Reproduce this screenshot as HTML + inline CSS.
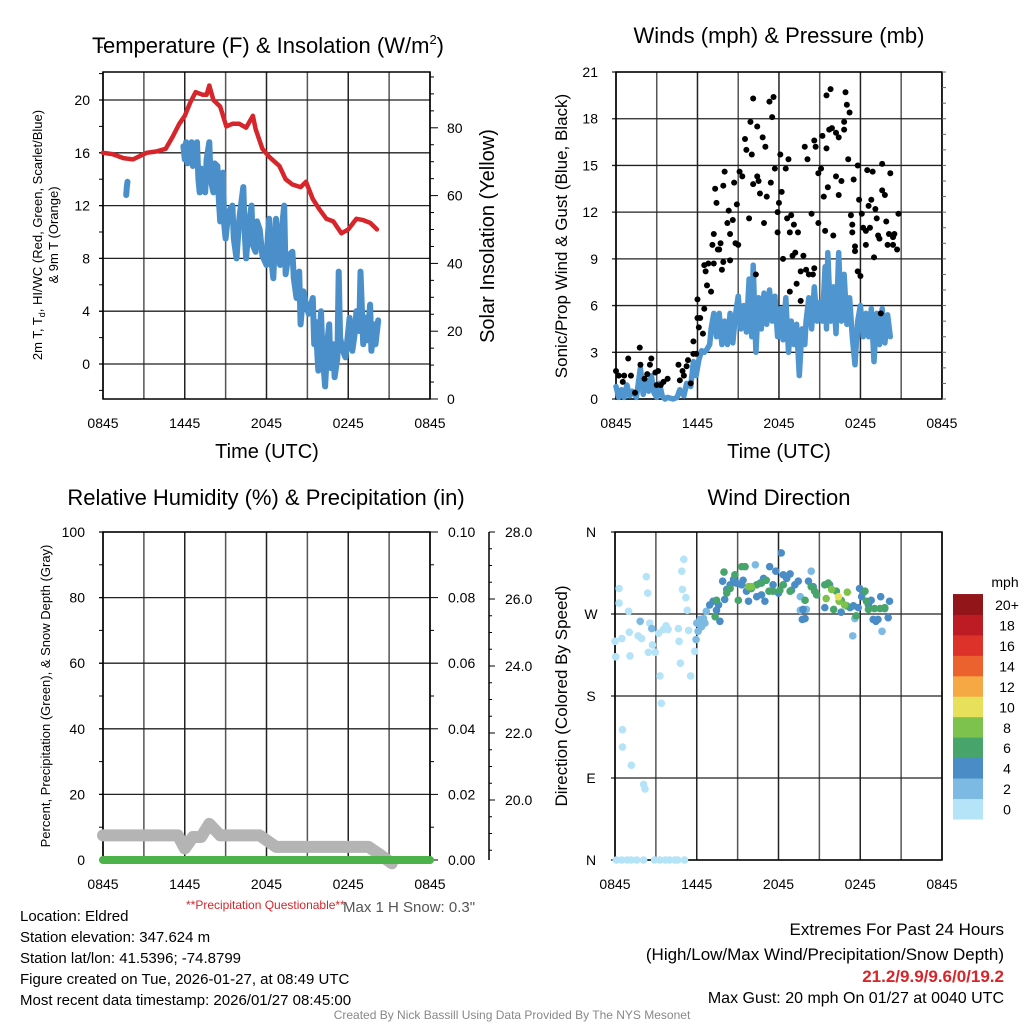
<!DOCTYPE html>
<html><head><meta charset="utf-8"><style>
html,body{margin:0;padding:0;background:#fff;}
svg{display:block;font-family:"Liberation Sans",sans-serif;}
</style></head><body>
<svg id="c" width="1024" height="1024" viewBox="0 0 1024 1024">
<g id="g-tl"></g>
<g id="g-tr"></g>
<g id="g-bl"></g>
<g id="g-br"></g>
<g font-size="22" text-anchor="middle" fill="#000">
<text x="268" y="53">Temperature (F) &amp; Insolation (W/m<tspan font-size="13" dy="-9">2</tspan><tspan dy="9">)</tspan></text>
<text x="779" y="43">Winds (mph) &amp; Pressure (mb)</text>
<text x="266" y="505">Relative Humidity (%) &amp; Precipitation (in)</text>
<text x="779" y="505">Wind Direction</text>
</g>
<g font-size="20" text-anchor="middle">
<text x="267" y="458">Time (UTC)</text>
<text x="779" y="458">Time (UTC)</text>
</g>
<text transform="translate(42,235) rotate(-90)" font-size="13" text-anchor="middle">2m T, T<tspan font-size="9" dy="3">d</tspan><tspan dy="-3">, HI/WC (Red, Green, Scarlet/Blue)</tspan></text>
<text transform="translate(58,235) rotate(-90)" font-size="13" text-anchor="middle">&amp; 9m T (Orange)</text>
<text transform="translate(494,236) rotate(-90)" font-size="20" text-anchor="middle">Solar Insolation (Yellow)</text>
<text transform="translate(567,236) rotate(-90)" font-size="17" text-anchor="middle">Sonic/Prop Wind &amp; Gust (Blue, Black)</text>
<text transform="translate(50,696) rotate(-90)" font-size="13" text-anchor="middle">Percent, Precipitation (Green), &amp; Snow Depth (Gray)</text>
<text transform="translate(567,696) rotate(-90)" font-size="17" text-anchor="middle">Direction (Colored By Speed)</text>
<text x="186" y="909" font-size="12" fill="#d7262b">**Precipitation Questionable**</text>
<text x="343" y="912" font-size="15" fill="#555">Max 1 H Snow: 0.3"</text>
<g font-size="15" fill="#000">
<text x="20" y="921">Location: Eldred</text>
<text x="20" y="942">Station elevation: 347.624 m</text>
<text x="20" y="963">Station lat/lon: 41.5396; -74.8799</text>
<text x="20" y="984">Figure created on Tue, 2026-01-27, at 08:49 UTC</text>
<text x="20" y="1005">Most recent data timestamp: 2026/01/27 08:45:00</text>
</g>
<g font-size="17" text-anchor="end">
<text x="1004" y="935">Extremes For Past 24 Hours</text>
<text x="1004" y="960">(High/Low/Max Wind/Precipitation/Snow Depth)</text>
<text x="1004" y="982" font-weight="bold" fill="#d7262b">21.2/9.9/9.6/0/19.2</text>
<text x="1004" y="1003" font-size="16">Max Gust: 20 mph On 01/27 at 0040 UTC</text>
</g>
<text x="512" y="1019" font-size="12" fill="#888" text-anchor="middle">Created By Nick Bassill Using Data Provided By The NYS Mesonet</text>
<text x="1005" y="587" font-size="14" text-anchor="middle">mph</text>
</svg>
<script>
// ---------- data ----------
const timeTickLabels = ["0845","1445","2045","0245","0845"];
const tempTicks = [0,4,8,12,16,20];
const insolTicks = [0,20,40,60,80];
const windTicks = [0,3,6,9,12,15,18,21];
const rhTicks = [0,20,40,60,80,100];
const precipTicks = ["0.00","0.02","0.04","0.06","0.08","0.10"];
const snowTicks = [20,22,24,26,28];
const dirTickLabels = ["N","E","S","W","N"];

const tempHours = [0,0.7,1.5,2.2,3.2,3.9,4.6,5.1,5.6,6.0,6.4,6.8,7.3,7.6,7.8,8.1,8.6,9.05,9.5,10.0,10.5,11.0,11.2,11.7,12.2,12.95,13.4,13.9,14.5,14.9,15.4,15.9,16.4,16.9,17.5,18.0,18.6,19.1,19.6,20.1];
const tempVals  = [16,15.9,15.6,15.5,16,16.1,16.3,17.2,18.2,18.8,19.8,20.6,20.4,20.4,21.1,20,19.5,18,18.2,18.2,17.9,18.8,17.8,16.3,15.7,15,14,13.6,13.4,13.8,12.5,11.7,11.0,10.8,9.9,10.2,11,10.9,10.7,10.2];
const dewHours1 = [1.7,1.75,1.8];
const dewVals1  = [12.8,13.4,13.8];
const dewHours2 = [5.9,6.0,6.1,6.2,6.3,6.4,6.5,6.6,6.7,6.8,6.9,7.0,7.1,7.2,7.3,7.4,7.5,7.6,7.8,7.9,8.1,8.2,8.4,8.5,8.6,8.7,8.8,8.9,9.0,9.2,9.5,9.6,9.8,10.0,10.3,10.4,10.5,10.7,10.9,11.0,11.2,11.3,11.5,11.7,12.0,12.1,12.2,12.3,12.5,12.6,12.7,12.8,13.0,13.1,13.3,13.4,13.6,13.9,14.0,14.2,14.4,14.5,14.7,14.9,15.1,15.4,15.5,15.6,15.8,16.0,16.1,16.3,16.5,16.6,16.7,16.9,17.0,17.2,17.3,17.4,17.6,17.8,18.0,18.1,18.3,18.5,18.6,18.8,18.9,19.1,19.3,19.4,19.6,19.7,19.9,20.0,20.2];
const dewVals2  = [16.5,15.5,16.8,15.2,15.3,16.6,16.8,15.0,15.2,16.5,16.8,14.0,13,14.8,14.5,13.2,13,15.5,16.8,14,13,15.2,15,12.5,10.8,13.5,14.5,10.5,9.5,11.5,12,9.5,8,11,13.4,10,8,10.5,12,9,8.5,10.8,10.2,8.2,7.5,9.8,11,8.5,6.5,9,11,8.8,7.5,10,12,6.8,8.2,8.5,6.5,5,7,3,5.5,4.5,3.8,5,1.5,3.2,-0.5,4,1,-1.7,2,3,-0.3,1.5,-1,0.5,7,2,1,0.5,2.5,3.5,1,2.5,4,2.5,7,1.5,3.5,1.8,4.5,1,3,1.5,3.3];

const windHours = [0,0.2,0.4,0.6,0.8,1.0,1.2,1.5,1.8,2.0,2.2,2.4,2.6,2.8,3.0,3.2,3.4,3.6,3.8,4.2,4.5,4.7,5.0,5.2,5.5,5.7,5.9,6.1,6.3,6.5,6.7,6.9,7.0,7.2,7.4,7.6,7.8,8.0,8.2,8.4,8.6,8.8,9.0,9.2,9.4,9.6,9.8,10.0,10.1,10.3,10.5,10.7,10.9,11.1,11.3,11.5,11.7,11.9,12.1,12.3,12.5,12.7,12.9,13.1,13.3,13.5,13.7,13.9,14.0,14.2,14.4,14.6,14.8,15.0,15.2,15.4,15.5,15.6,15.8,16.0,16.2,16.4,16.6,16.8,17.0,17.2,17.4,17.6,17.8,18.0,18.2,18.4,18.6,18.8,19.0,19.2,19.4,19.6,19.8,20.0,20.2];
const windVals  = [0.8,0.1,0.6,0.1,0.9,0.2,0.5,0.1,2.0,0.3,1.2,0.5,1.5,0.4,0.1,1.0,0.2,0.0,0.1,0.0,0.1,0.6,0.2,1.0,0.8,2.4,1.5,2.5,3.1,3.0,3.2,3.5,4.5,5.5,4.0,5.5,3.5,5.0,3.5,5.5,3.6,5.4,6.6,4.5,6.0,4.3,7.7,4.0,8.6,3.0,6.5,4.5,6.8,4.8,7.0,5.0,6.6,4.0,5.8,3.8,6.5,3.0,5.0,3.5,4.8,1.5,4.5,3.5,5.0,6.5,4.5,7.2,5.0,6.2,5.0,8.5,4.5,9.4,5.0,7.2,4.2,9.4,5.0,8.0,4.8,6.5,4.0,2.2,5.0,6.0,4.0,5.5,4.0,5.8,2.4,5.5,3.5,5.8,3.6,5.4,4.0];

const gustHours = [0,0.2,0.6,0.5,0.9,1.1,1.4,1.75,1.8,2.1,2.3,2.5,2.6,2.9,3.0,3.1,3.3,3.5,3.8,4.6,4.7,4.9,5.0,5.2,5.3,5.5,5.7,5.7,5.9,6.0,6.0,6.1,6.2,6.4,6.5,6.5,6.6,6.7,6.8,7.0,7.1,7.2,7.2,7.3,7.4,7.5,7.6,7.7,7.8,7.9,7.9,8.0,8.2,8.3,8.4,8.4,8.6,8.7,8.8,8.9,9.0,9.1,9.3,9.5,9.6,9.8,9.9,10.0,10.1,10.1,10.3,10.4,10.4,10.5,10.6,10.8,10.9,11.0,11.1,11.3,11.4,11.5,11.6,11.7,11.9,11.9,12.0,12.1,12.2,12.3,12.5,12.6,12.7,12.8,12.8,12.9,13.0,13.1,13.2,13.3,13.4,13.6,13.6,13.8,13.9,14.0,14.1,14.2,14.4,14.5,14.6,14.6,14.7,14.9,14.9,15.1,15.2,15.3,15.4,15.5,15.6,15.5,15.7,15.8,15.9,16.0,16.2,16.2,16.4,16.4,16.6,16.8,16.8,16.9,17.0,17.2,17.1,17.3,17.4,17.4,17.5,17.6,17.6,17.8,17.8,17.9,18.0,18.1,18.2,18.4,18.4,18.5,18.6,18.7,18.8,18.9,19.0,19.1,19.2,19.3,19.4,19.5,19.6,19.6,19.8,19.9,20.0,20.1,20.2,20.4,20.4,20.5,20.7,20.8];
const gustVals  = [1.8,1.5,1.5,1.1,2.6,1.5,0.4,3.3,2.2,1.3,1.6,2.2,2.6,1.7,0.9,1.8,0.9,1.1,1.3,2.2,1.2,1.8,1.5,2.1,2.5,1.0,3.7,2.9,2.9,5.2,6.4,4.6,5.2,4.2,5.8,8.6,8.2,7.3,8.7,6.9,9.9,8.7,10.6,13.5,12.6,9.6,9.6,10.0,8.3,8.8,13.7,14.6,11.3,12.1,10.6,8.9,11.5,13.9,10.0,12.5,9.9,14.6,14.3,16.7,16.0,11.6,17.8,15.7,13.8,19.3,8.0,14.3,17.5,14.0,13.2,16.8,11.3,16.2,13.0,19.1,13.9,18.1,19.4,14.8,12.0,10.7,12.6,15.7,13.3,9.0,14.8,11.6,15.4,6.9,10.7,11.8,9.2,11.2,9.4,7.4,10.7,6.3,8.2,9.2,16.2,8.3,15.4,8.0,11.9,8.0,16.6,8.4,16.2,14.5,11.3,14.8,16.9,13.0,10.8,16.1,13.6,19.5,17.3,19.9,17.4,10.5,14.3,17.1,13.1,16.8,14.0,17.8,17.3,19.7,18.9,18.4,15.4,11.8,10.7,11.2,14.1,9.8,9.5,8.2,15.0,12.8,7.9,11.9,11.0,10.8,9.9,14.7,12.4,11.0,12.8,14.6,9.1,12.2,11.6,10.5,10.3,5.5,15.1,13.4,13.1,11.4,9.9,10.6,14.5,10.4,9.9,10.6,9.6,11.9];

const snowHours = [0,4.5,5.5,6.0,6.6,7.2,7.8,8.6,9.5,11.5,12.7,13.5,16,19.5,20.2,21.2];
const snowPct   = [7.5,7.5,7.5,3.5,7,7,11,7.5,7.5,7.5,4,4,4,4,2,-1];
const precipHours = [0,24];
const precipVals  = [0,0];

const dirHours = [0.0,0.05,0.3,0.3,0.5,1.0,1.1,1.05,0.55,0.55,1.2,1.7,1.95,2.1,2.2,2.3,2.4,2.45,2.55,2.75,2.95,3.2,3.3,3.4,3.55,3.75,3.9,4.65,4.7,4.8,4.9,4.95,5.05,5.2,5.3,5.4,5.55,5.85,
 0.1,0.5,0.9,1.2,1.6,2.1,2.9,3.3,3.7,4.0,4.4,4.6,5.1,
 1.85,2.7,6.0,6.25,6.5,6.7,6.1,6.35,6.6,5.95,17.6,17.45,19.6,14.05,13.6,14.4,10.3,13.6,
 6.95,7.2,7.45,7.6,7.7,7.9,8.05,8.2,8.45,8.7,8.9,9.3,9.4,9.65,9.8,10.0,10.4,10.65,10.75,10.9,11.0,11.35,11.6,11.8,12.0,12.2,12.35,12.6,12.85,12.95,13.2,13.45,13.75,13.95,13.8,14.2,14.55,15.4,15.75,16.6,17.25,17.5,17.85,17.95,18.1,18.25,18.6,18.8,18.95,19.15,19.3,19.5,19.8,20.05,20.15,
 8.0,8.2,8.45,8.8,9.05,9.3,9.55,10.0,10.4,10.75,11.1,11.3,11.6,12.1,12.35,12.85,13.95,14.4,14.65,14.8,15.4,15.65,16.05,16.25,16.6,17.0,17.7,18.35,18.45,18.6,19.05,19.45,19.8,7.35,7.45,
 9.8,10.0,15.5,15.9,16.45,16.85,17.05,16.4];
const dirDeg = [240,223,298,282,243,273,224,250,143,124,104,246,243,83,78,311,293,228,260,236,228,249,202,172,253,257,253,254,240,216,317,297,330,288,274,252,202,229,
 0,0,0,0,0,0,0,0,0,0,0,0,0,
 262,254,260,264,265,273,251,256,260,242,265,246,251,275,274,317,324,289,
 280,284,274,280,262,306,286,297,302,308,304,302,307,295,284,298,289,304,291,309,284,322,302,317,293,337,313,309,314,296,302,306,264,265,275,306,300,277,302,272,277,279,277,298,289,294,280,285,264,262,264,289,276,266,284,
 316,293,298,313,285,322,322,298,302,304,307,295,295,296,302,295,285,300,295,291,302,304,275,295,285,279,268,295,284,275,276,276,277,267,285,
 300,300,287,297,284,280,294,289];
const dirSpeed = [1,1,1,1,1,1,1,1,1,1,1,1,1,1,1,1,1,1,1,1,1,1,1,1,1,1,1,1,1,1,1,1,1,1,1,1,1,1,
 0,0,0,0,0,0,0,0,0,0,0,0,0,
 3,3,3,3,3,3,3,3,3,3,3,3,3,3,3,3,3,3,
 5,5,5,5,5,5,5,5,5,5,5,5,5,5,5,5,5,5,5,5,5,5,5,5,5,5,5,5,5,5,5,5,5,5,5,5,5,5,5,5,5,5,5,5,5,5,5,5,5,5,5,5,5,5,5,
 7,7,7,7,7,7,7,7,7,7,7,7,7,7,7,7,7,7,7,7,7,7,7,7,7,7,7,7,7,7,7,7,7,7,7,
 9,9,9,9,9,9,9,11];
const legendLabels = ["0","2","4","6","8","10","12","14","16","18","20+"];
const legendColors = ["#b5e3f8","#7cbae4","#4a8dc6","#47a56c","#7cc24c","#e6e05a","#f5a844","#ec622e","#dc3229","#bd1c24","#921519"];

// ---------- helpers ----------
const NS="http://www.w3.org/2000/svg";
function mk(parent,tag,attrs){const e=document.createElementNS(NS,tag);for(const k in attrs)e.setAttribute(k,attrs[k]);parent.appendChild(e);return e;}
function txt(parent,x,y,s,size,anchor){const e=mk(parent,"text",{x:x,y:y,"font-size":size,"text-anchor":anchor});e.textContent=s;return e;}
function pathD(xs,ys,fx,fy){return xs.map((h,i)=>(i?"L":"M")+fx(h).toFixed(1)+","+fy(ys[i]).toFixed(1)).join("");}

function frame(g,x0,y0,x1,y1,fx,hTicks,fyGrid,name){
  for(let h=0;h<=24;h+=3){const l=mk(g,"line",{x1:fx(h),x2:fx(h),y1:y0,y2:y1,stroke:(h%6==0)?"#222":"#555","stroke-width":1.5});
    
    }
  hTicks.forEach(v=>{const l=mk(g,"line",{x1:x0-4,x2:x1,y1:fyGrid(v),y2:fyGrid(v),stroke:"#222","stroke-width":1.3});
    
    });
  const r=mk(g,"rect",{x:x0,y:y0,width:x1-x0,height:y1-y0,fill:"none",stroke:"#000","stroke-width":1.5});
  
  
  for(let i=0;i<timeTickLabels.length;i++){const t=txt(g,fx(i*6),y1+29,timeTickLabels[i],14,"middle");
    
    }
}

// ---------- top-left ----------
(function(){
const g=document.getElementById("g-tl");
const fx=h=>103+h*13.625, fy=v=>364-v*13.2, fi=v=>399-v*3.39;
frame(g,103,72,430,399,fx,tempTicks,fy,"temperature");
for(let v=-2;v<=24;v+=2){mk(g,"line",{x1:99,x2:103,y1:fy(v),y2:fy(v),stroke:"#000"});}
tempTicks.forEach(v=>{const t=txt(g,90,fy(v)+5,String(v),14,"end");
  
  });
for(let v=0;v<=95;v+=5){mk(g,"line",{x1:430,x2:v%20==0?438:434,y1:fi(v),y2:fi(v),stroke:"#000"});}
insolTicks.forEach(v=>{const t=txt(g,447,fi(v)+5,String(v),14,"start");
  
  });
const d1=mk(g,"path",{d:pathD(dewHours1,dewVals1,fx,fy),fill:"none",stroke:"#4a8fc9","stroke-width":6,"stroke-linecap":"round","stroke-linejoin":"round"});


const d2=mk(g,"path",{d:pathD(dewHours2,dewVals2,fx,fy),fill:"none",stroke:"#4a8fc9","stroke-width":6,"stroke-linecap":"round","stroke-linejoin":"round"});


const t=mk(g,"path",{d:pathD(tempHours,tempVals,fx,fy),fill:"none",stroke:"#d7262b","stroke-width":4.5,"stroke-linecap":"round","stroke-linejoin":"round"});


})();

// ---------- top-right ----------
(function(){
const g=document.getElementById("g-tr");
const fx=h=>616+h*13.58, fy=v=>399-v*15.57;
frame(g,616,72,942,399,fx,windTicks,fy,"wind");
for(let v=0;v<=21;v++){mk(g,"line",{x1:942,x2:946,y1:fy(v),y2:fy(v),stroke:"#666"});}
windTicks.forEach(v=>{const t=txt(g,598,fy(v)+5,String(v),14,"end");
  
  });
const w=mk(g,"path",{d:pathD(windHours,windVals,fx,fy),fill:"none",stroke:"#4f95cf","stroke-width":5.5,"stroke-linecap":"round","stroke-linejoin":"round"});


gustHours.forEach((h,i)=>{const c=mk(g,"circle",{cx:fx(h),cy:fy(gustVals[i]),r:3,fill:"#000"});
  
  });
})();

// ---------- bottom-left ----------
(function(){
const g=document.getElementById("g-bl");
const fx=h=>103+h*13.625, fy=v=>860-v*3.28, fs=v=>532+(28-v)*33.5;
frame(g,103,532,430,860,fx,rhTicks,fy,"humidity");
for(let v=0;v<=100;v+=10){mk(g,"line",{x1:99,x2:103,y1:fy(v),y2:fy(v),stroke:"#000"});mk(g,"line",{x1:430,x2:v%20==0?438:434,y1:fy(v),y2:fy(v),stroke:"#000"});}
rhTicks.forEach(v=>{const t=txt(g,85,fy(v)+5,String(v),14,"end");
  
  });
precipTicks.forEach((s,i)=>{const t=txt(g,448,fy(i*20)+5,s,14,"start");
  
  });
const ax=mk(g,"line",{x1:489,x2:489,y1:532,y2:860,stroke:"#000","stroke-width":1.5});


for(let v=18.5;v<=28;v+=0.5){mk(g,"line",{x1:489,x2:v%2==0?495:492,y1:fs(v),y2:fs(v),stroke:"#000"});}
snowTicks.forEach(v=>{const t=txt(g,505,fs(v)+5,v.toFixed(1),14,"start");
  
  });
const s=mk(g,"path",{d:pathD(snowHours,snowPct,fx,fy),fill:"none",stroke:"#b4b4b4","stroke-width":12,"stroke-linecap":"round","stroke-linejoin":"round"});


const p=mk(g,"path",{d:pathD(precipHours,precipVals,fx,fy),fill:"none",stroke:"#4cb24a","stroke-width":8,"stroke-linecap":"round"});


})();

// ---------- bottom-right ----------
(function(){
const g=document.getElementById("g-br");
const fx=h=>615+h*13.625, fy=d=>860-d*0.9111;
frame(g,615,532,942,860,fx,[0,90,180,270,360],fy,"direction");
dirTickLabels.forEach((s,i)=>{const t=txt(g,591,fy(i*90)+5,s,14,"middle");
  
  });
dirHours.forEach((h,i)=>{const c=mk(g,"circle",{cx:fx(h),cy:fy(dirDeg[i]),r:3.8,fill:legendColors[Math.min(10,Math.floor(dirSpeed[i]/2))]});
  
  });
legendColors.forEach((col,i)=>{const y=819-(i+1)*20.45;
  const r=mk(g,"rect",{x:953,y:y,width:30,height:20.9,fill:col});
  
  
  const t=txt(g,1007,y+16,legendLabels[i],14,"middle");
  
  });
})();
</script>
</body></html>
